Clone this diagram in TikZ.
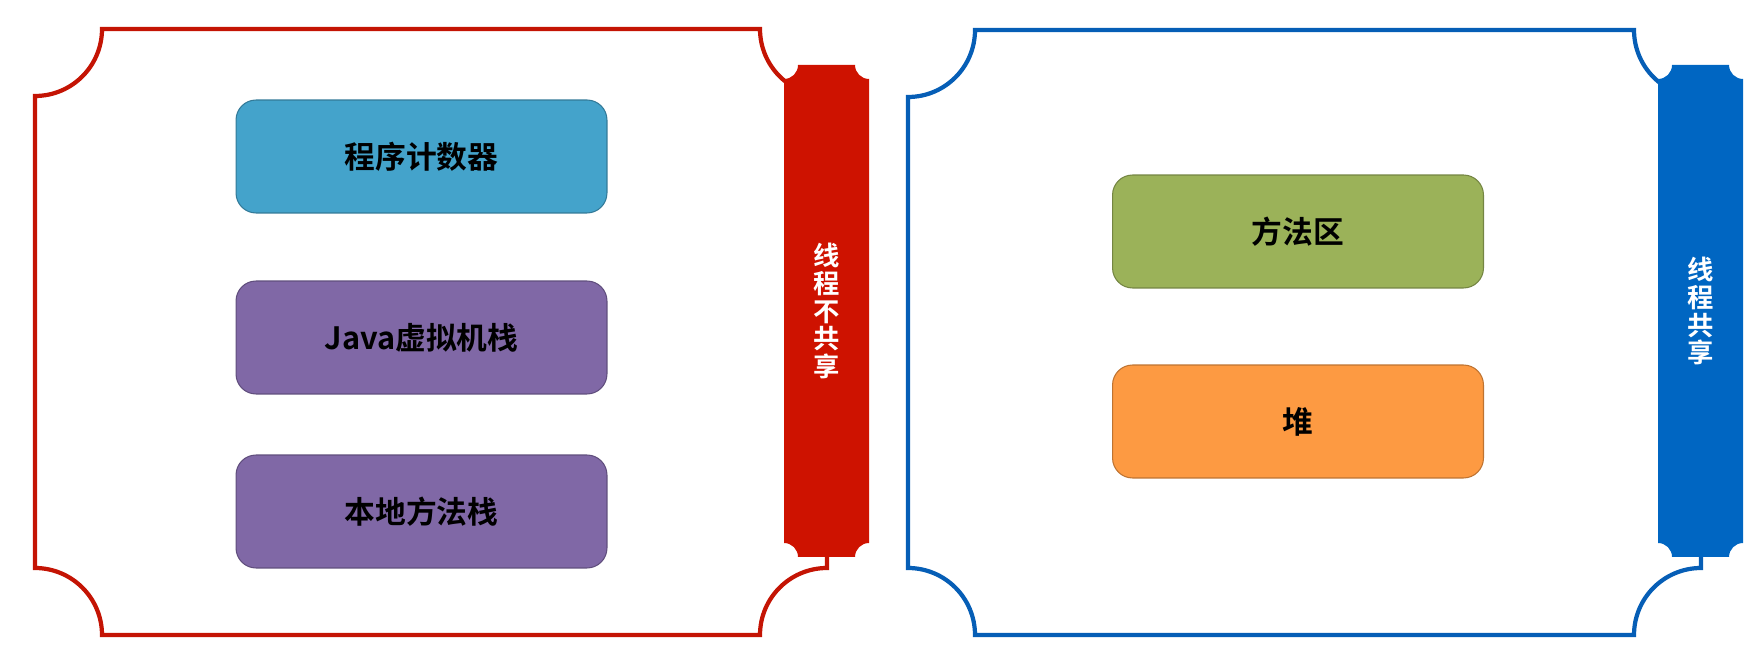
\documentclass[tikz,border=0pt]{standalone}
\usepackage{fontspec}
\newfontfamily\cjk{Noto Sans CJK SC}[BoldFont={Noto Sans CJK SC Bold}]
\definecolor{framered}{RGB}{196,20,4}
\definecolor{barred}{RGB}{206,18,0}
\definecolor{frameblue}{RGB}{6,94,182}
\definecolor{barblue}{RGB}{0,102,194}
\definecolor{pcblue}{RGB}{68,163,203}
\definecolor{stackpurple}{RGB}{128,104,166}
\definecolor{areagreen}{RGB}{155,178,89}
\definecolor{heaporange}{RGB}{253,154,66}

\begin{document}
\begin{tikzpicture}[x=0.02cm,y=0.02cm,
	area/.style={rounded corners=0.4cm, minimum width=7.42cm, minimum height=2.26cm, line width=0.6pt, text=black, font=\cjk\bfseries\fontsize{17.5pt}{20pt}\selectfont},
	barlabel/.style={align=center, text=white, font=\cjk\bfseries\fontsize{15pt}{15.9pt}\selectfont}]
	
	\useasboundingbox (0,0) rectangle (1763,672);
	
	\draw[framered, line width=2.4pt] (102,643) -- (760,643) arc[start angle=180, end angle=270, radius=67] -- (827,104) arc[start angle=90, end angle=180, radius=67] -- (102,37) arc[start angle=0, end angle=90, radius=67] -- (35,576) arc[start angle=270, end angle=360, radius=67] -- cycle;
	\draw[frameblue, line width=2.4pt] (975,642) -- (1634,642) arc[start angle=180, end angle=270, radius=67] -- (1701,104) arc[start angle=90, end angle=180, radius=67] -- (975,37) arc[start angle=0, end angle=90, radius=67] -- (908,575) arc[start angle=270, end angle=360, radius=67] -- cycle;
	
	\fill[barred] (798,607) -- (855,607) arc[start angle=180, end angle=270, radius=14] -- (869,129) arc[start angle=90, end angle=180, radius=14] -- (798,115) arc[start angle=0, end angle=90, radius=14] -- (784,593) arc[start angle=270, end angle=360, radius=14] -- cycle;
	\fill[barblue] (1672,607) -- (1729,607) arc[start angle=180, end angle=270, radius=14] -- (1743,129) arc[start angle=90, end angle=180, radius=14] -- (1672,115) arc[start angle=0, end angle=90, radius=14] -- (1658,593) arc[start angle=270, end angle=360, radius=14] -- cycle;
	
	\node[area, fill=pcblue, draw=pcblue!75!black] (pc) at (421.5,515.5) {程序计数器};
	\node[area, fill=stackpurple, draw=stackpurple!75!black] (jvm) at (421.5,334.5) {Java虚拟机栈};
	\node[area, fill=stackpurple, draw=stackpurple!75!black] (native) at (421.5,160.5) {本地方法栈};
	\node[area, fill=areagreen, draw=areagreen!75!black] (method) at (1298,440.5) {方法区};
	\node[area, fill=heaporange, draw=heaporange!75!black] (heap) at (1298,250.5) {堆};
	
	\node[barlabel] (private) at (826.5,361) {线\\程\\不\\共\\享};
	\node[barlabel] (shared) at (1700.5,361) {线\\程\\共\\享};
	\end{tikzpicture}
\end{document}
